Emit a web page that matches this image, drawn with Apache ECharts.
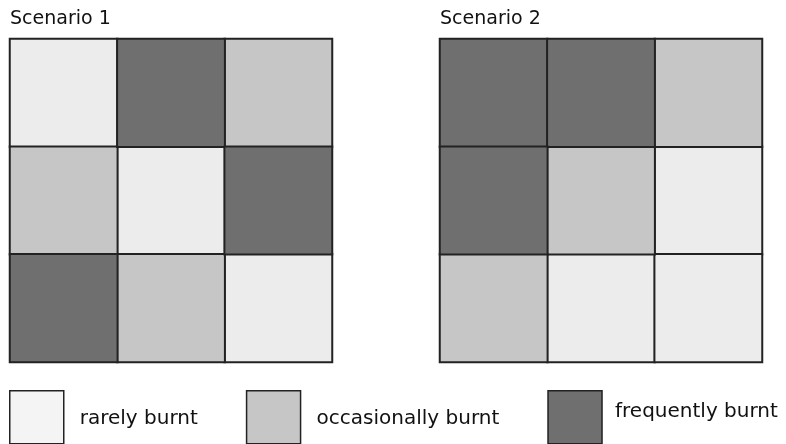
<!DOCTYPE html>
<html>
<head>
<meta charset="utf-8">
<script src="https://cdn.jsdelivr.net/npm/echarts@6/dist/echarts.min.js"></script>
<style>
  html, body { margin: 0; padding: 0; background: #fff; }
  #chart { width: 786px; height: 444px; }
</style>
</head>
<body>
<div id="chart"></div>
<script>
// burn levels: 0 = rarely, 1 = occasionally, 2 = frequently (rows top to bottom)
const levelNames = ['rarely burnt', 'occasionally burnt', 'frequently burnt'];
const scenarioNames = ['Scenario 1', 'Scenario 2'];
const scenario1 = [
    [0, 2, 1],
    [1, 0, 2],
    [2, 1, 0]
];
const scenario2 = [
    [2, 2, 1],
    [2, 1, 0],
    [1, 0, 0]
];
const cols = ['c1', 'c2', 'c3'];
const rows = ['r1', 'r2', 'r3'];

const cellColors = ['#ececec', '#c6c6c6', '#6f6f6f'];
const legendColors = ['#f4f4f4', '#c6c6c6', '#6f6f6f'];

const chart = echarts.init(document.getElementById('chart'));

const grids = [
    { left: 10, top: 39, width: 322, height: 323 },
    { left: 440, top: 39, width: 322, height: 323 }
];

const series = [];
[scenario1, scenario2].forEach((matrix, g) => {
    levelNames.forEach((name, lvl) => {
        const data = [];
        matrix.forEach((row, r) => {
            row.forEach((v, c) => {
                if (v === lvl) data.push([c, r, v]);
            });
        });
        series.push({
            name: name,
            type: 'heatmap',
            xAxisIndex: g,
            yAxisIndex: g,
            data: data,
            itemStyle: { color: cellColors[lvl], borderColor: '#222', borderWidth: 2 },
            emphasis: { disabled: true }
        });
    });
});

const option = {
    animation: false,
    textStyle: { fontFamily: 'DejaVu Sans' },
    title: scenarioNames.map((t, i) => ({
        text: t,
        left: grids[i].left,
        top: 10,
        padding: 0,
        textStyle: { fontSize: 19, fontWeight: 'normal', color: '#111', fontFamily: 'DejaVu Sans' }
    })),
    grid: grids,
    xAxis: grids.map((_, i) => ({ type: 'category', data: cols, gridIndex: i, show: false })),
    yAxis: grids.map((_, i) => ({ type: 'category', data: rows, gridIndex: i, inverse: true, show: false })),
    legend: {
        left: 9,
        top: 390,
        padding: 0,
        icon: 'rect',
        itemWidth: 54,
        itemHeight: 53,
        itemGap: 48,
        selectedMode: false,
        data: levelNames.map((n, i) => ({
            name: n,
            itemStyle: { color: legendColors[i], borderColor: '#222', borderWidth: 1.5 }
        })),
        formatter: name => name === 'frequently burnt' ? '{up|' + name + '}' : '{a|' + name + '}',
        textStyle: {
            fontSize: 20,
            color: '#111',
            fontFamily: 'DejaVu Sans',
            rich: {
                a: { fontSize: 20, fontFamily: 'DejaVu Sans', color: '#111', padding: [4, 0, 0, 11] },
                up: { fontSize: 20, fontFamily: 'DejaVu Sans', color: '#111', padding: [0, 0, 10, 8] }
            }
        }
    },
    series: series
};

chart.setOption(option);
</script>
</body>
</html>
